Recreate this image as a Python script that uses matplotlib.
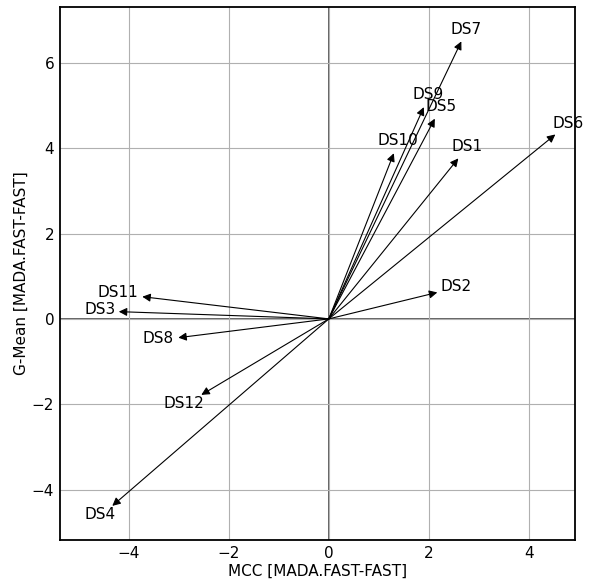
import matplotlib
matplotlib.use("Agg")
import matplotlib.pyplot as plt

# Vector end points per data set
labels = ["DS1", "DS2", "DS3", "DS4", "DS5", "DS6",
          "DS7", "DS8", "DS9", "DS10", "DS11", "DS12"]
mcc = [2.59, 2.17, -4.20, -4.33, 2.12, 4.53,
       2.65, -3.01, 1.90, 1.30, -3.73, -2.55]
gmean = [3.76, 0.62, 0.17, -4.38, 4.69, 4.32,
         6.50, -0.44, 4.96, 3.88, 0.52, -1.78]

# Label anchor points
label_x = [2.76, 2.54, -4.58, -4.58, 2.24, 4.78,
           2.74, -3.42, 1.98, 1.38, -4.22, -2.90]
label_y = [4.03, 0.77, 0.21, -4.59, 4.97, 4.57,
           6.77, -0.47, 5.25, 4.17, 0.61, -1.99]

fig = plt.figure(figsize=(5.92, 5.84), dpi=100)
ax = fig.add_axes([0.101, 0.0753, 0.870, 0.913])

ax.grid(True, color="#b0b0b0", linewidth=0.8, zorder=0)
ax.axhline(0, color="#555555", linewidth=1.3, zorder=1)
ax.axvline(0, color="#555555", linewidth=1.3, zorder=1)

for x, y in zip(mcc, gmean):
    ax.annotate("", xy=(x, y), xytext=(0, 0),
                arrowprops=dict(arrowstyle="-|>", color="black", lw=0.8,
                                mutation_scale=12, shrinkA=0, shrinkB=0),
                zorder=3)

for lab, tx, ty in zip(labels, label_x, label_y):
    ax.text(tx, ty, lab, ha="center", va="center", fontsize=11, zorder=4)

ax.set_xlim(-5.38, 4.92)
ax.set_ylim(-5.18, 7.31)
ax.set_xticks([-4, -2, 0, 2, 4])
ax.set_yticks([-4, -2, 0, 2, 4, 6])
ax.tick_params(labelsize=11, length=0, pad=4)
for s in ax.spines.values():
    s.set_linewidth(1.3)
ax.set_xlabel("MCC [MADA.FAST-FAST]", fontsize=11, labelpad=2)
ax.set_ylabel("G-Mean [MADA.FAST-FAST]", fontsize=11, labelpad=2)

fig.savefig("out.png", dpi=100)
